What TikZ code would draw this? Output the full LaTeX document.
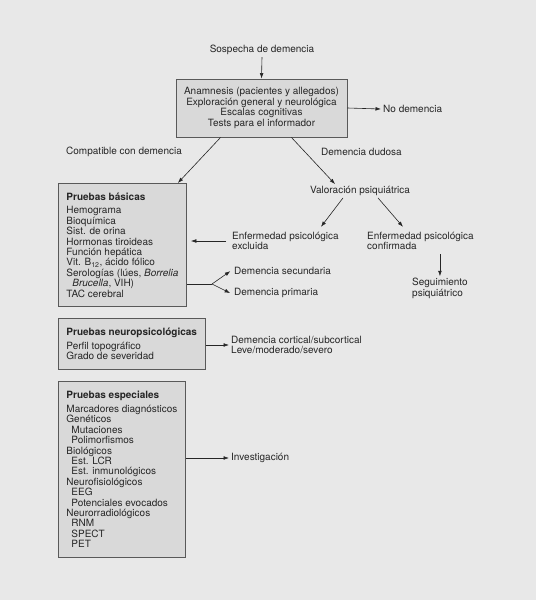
\documentclass[tikz,border=0pt]{standalone}
\usepackage{fontspec}
\setmainfont{TeX Gyre Heros}
\usetikzlibrary{arrows.meta}

\definecolor{bgcol}{gray}{0.91}
\definecolor{boxfill}{gray}{0.85}
\definecolor{boxline}{gray}{0.35}

\begin{document}
\begin{tikzpicture}[x=1pt,y=-1pt,>={Latex[length=5.5pt,width=3.8pt]},
    every node/.style={font=\fontsize{10}{10.4}\selectfont,inner sep=2pt,text=black!85},
    mainbox/.style={draw=boxline,line width=0.9pt,fill=boxfill,align=center},
    testbox/.style={draw=boxline,line width=0.9pt,fill=boxfill,anchor=north west,
        align=left,inner xsep=8pt,inner ysep=4pt},
    lbl/.style={anchor=west,align=left},
    conn/.style={->,line width=0.6pt,black!85}]

    % Background
    \fill[bgcol] (0,0) rectangle (536,600);
    \useasboundingbox (0,0) rectangle (536,600);

    % Start
    \node (sosp) at (262,50) {Sospecha de demencia};
    \node[mainbox,minimum width=171pt,minimum height=58pt] (exam) at (261.5,108)
        {Anamnesis (pacientes y allegados)\\Exploración general y neurológica\\
         Escalas cognitivas\\Tests para el informador};
    \node[lbl] (nodem) at (381,109) {No demencia};
    \draw[conn] (sosp.south) -- (exam.north);
    \draw[conn] (exam.east) -- (nodem.west);

    % Branches
    \node[lbl] (compat) at (64,152) {Compatible con demencia};
    \node[lbl] (dudosa) at (319,152) {Demencia dudosa};

    % Basic tests
    \node[testbox,minimum height=123pt] (basic) at (58,183)
        {\textbf{Pruebas básicas}\\[3.4pt]
         Hemograma\\Bioquímica\\Sist. de orina\\Hormonas tiroideas\\Función hepática\\
         Vit. B\textsubscript{12}, ácido fólico\\Serologías (lúes, \textit{Borrelia}\\
         \hspace*{6pt}\textit{Brucella}, VIH)\\TAC cerebral};
    \draw[conn] ([xshift=45pt]exam.south west) -- ([xshift=-9pt]basic.north east);

    % Psychiatric branch
    \node (val) at (360,191) {Valoración psiquiátrica};
    \draw[conn] ([xshift=-56pt]exam.south east) -- ([xshift=-25pt]val.north);
    \node[lbl] (excl) at (230,241) {Enfermedad psicológica\\excluida};
    \node[lbl] (conf) at (365,241) {Enfermedad psicológica\\confirmada};
    \node[lbl] (seg) at (410,288.5) {Seguimiento\\psiquiátrico};
    \draw[conn] ([xshift=-17pt]val.south) -- ([xshift=-20pt,yshift=3pt]excl.north east);
    \draw[conn] ([xshift=18pt]val.south) -- ([xshift=38pt,yshift=3pt]conf.north west);
    \draw[conn,shorten <=2pt] (conf.south -| seg.north) -- (seg.north);
    \draw[conn,shorten <=4pt,shorten >=4pt] (excl.west) -- (excl.west -| basic.east);

    % Outcome of basic tests
    \node[lbl] (sec) at (232,271) {Demencia secundaria};
    \node[lbl] (prim) at (232,293) {Demencia primaria};
    \coordinate (fork) at (212,284);
    \draw[line width=0.6pt,black!85] (basic.east |- fork) -- (fork);
    \draw[conn,shorten >=2pt] (fork) -- ([yshift=1pt]sec.west);
    \draw[conn,shorten >=2pt] (fork) -- ([yshift=-1pt]prim.west);

    % Neuropsychological tests
    \node[testbox,minimum height=51pt] (neuro) at (58,318)
        {\textbf{Pruebas neuropsicológicas}\\[3.4pt]
         Perfil topográfico\\Grado de severidad};
    \node[lbl] (grado) at (229,345) {Demencia cortical/subcortical\\Leve/moderado/severo};
    \draw[conn] (neuro.east |- grado.west) -- (grado.west);

    % Special tests
    \node[testbox,minimum height=176pt] (esp) at (58,381)
        {\textbf{Pruebas especiales}\\[3.4pt]
         Marcadores diagnósticos\\Genéticos\\\hspace*{5pt}Mutaciones\\\hspace*{5pt}Polimorfismos\\
         Biológicos\\\hspace*{5pt}Est. LCR\\\hspace*{5pt}Est. inmunológicos\\
         Neurofisiológicos\\\hspace*{5pt}EEG\\\hspace*{5pt}Potenciales evocados\\
         Neurorradiológicos\\\hspace*{5pt}RNM\\\hspace*{5pt}SPECT\\\hspace*{5pt}PET};
    \node[lbl] (inv) at (229,458) {Investigación};
    \draw[conn] (esp.east |- inv.west) -- (inv.west);
\end{tikzpicture}
\end{document}
